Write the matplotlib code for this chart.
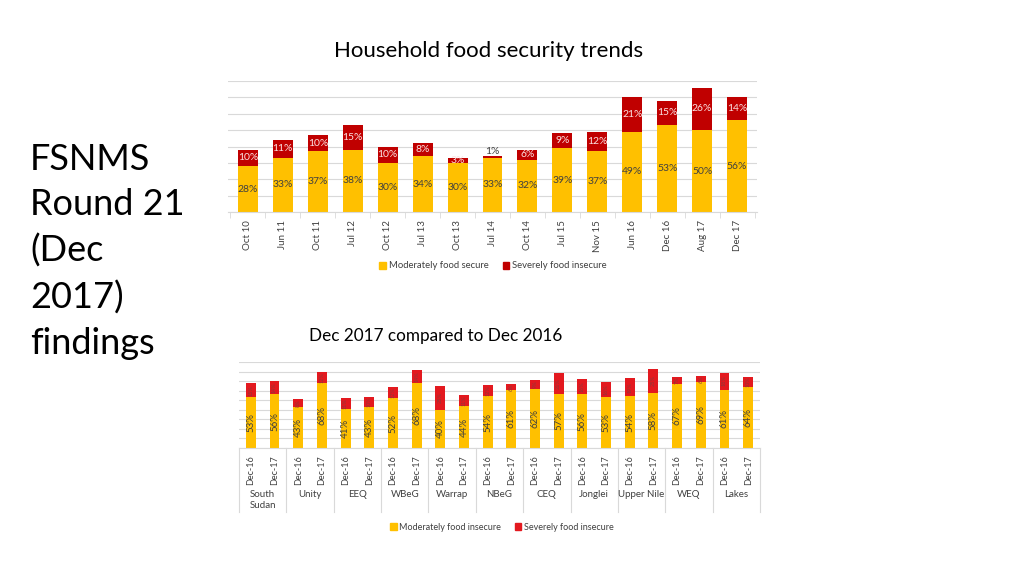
#!/usr/bin/env python
# -*- coding: utf-8 -*-

import numpy as np
import matplotlib
matplotlib.use('Agg')
import matplotlib.pyplot as plt
from matplotlib.patches import Patch

plt.rcParams['font.family'] = ['Lato', 'DejaVu Sans']

########################################################################################################################

# Tendances (graphique du haut)
PERIODES = ['Oct 10', 'Jun 11', 'Oct 11', 'Jul 12', 'Oct 12', 'Jul 13', 'Oct 13', 'Jul 14',
            'Oct 14', 'Jul 15', 'Nov 15', 'Jun 16', 'Dec 16', 'Aug 17', 'Dec 17']
MODERE = [28, 33, 37, 38, 30, 34, 30, 33, 32, 39, 37, 49, 53, 50, 56]
SEVERE = [10, 11, 10, 15, 10, 8, 3, 1, 6, 9, 12, 21, 15, 26, 14]

# Comparaison par état (graphique du bas)
ETATS = ['South\nSudan', 'Unity', 'EEQ', 'WBeG', 'Warrap', 'NBeG', 'CEQ', 'Jonglei',
         'Upper Nile', 'WEQ', 'Lakes']
ANNEES = ['Dec-16', 'Dec-17']
MODERE_ETAT = [53, 56, 43, 68, 41, 43, 52, 68, 40, 44, 54, 61, 62, 57, 56, 53, 54, 58, 67, 69, 61, 64]
SEVERE_ETAT = [15, 14, 8, 12, 11, 10, 12, 14, 25, 11, 12, 6, 9, 21, 16, 16, 19, 25, 7, 6, 18, 10]

########################################################################################################################

JAUNE = '#FFC000'
ROUGE_FONCE = '#C00000'
ROUGE = '#E3191F'
GRILLE = '#D9D9D9'
TEXTE = '#404040'

fig = plt.figure(figsize=(10.24, 5.76), dpi=100)

fig.text(30 / 1024, 1 - 143 / 576, 'FSNMS\nRound 21\n(Dec\n2017)\nfindings', fontsize=26,
         va='top', ha='left', linespacing=1.45, color='black')

# ------------------------------------------------------------------------------------------------------------------
# Graphique du haut
ax1 = fig.add_axes([228 / 1024, 1 - 212 / 576, (757 - 228) / 1024, (212 - 81) / 576])
x1 = np.arange(len(PERIODES))
ax1.bar(x1, MODERE, width=0.57, color=JAUNE, zorder=2)
ax1.bar(x1, SEVERE, width=0.57, bottom=MODERE, color=ROUGE_FONCE, zorder=2)
ax1.set_ylim(0, 80)
ax1.set_xlim(-0.57, len(PERIODES) - 0.43)
ax1.set_yticks(np.arange(0, 81, 10))
ax1.yaxis.grid(True, color=GRILLE, linewidth=0.8)
ax1.set_axisbelow(True)
ax1.tick_params(axis='y', length=0, labelleft=False)
ax1.set_xticks(x1)
ax1.set_xticklabels(PERIODES, rotation=90, fontsize=7, color=TEXTE)
ax1.set_xticks(np.arange(len(PERIODES) + 1) - 0.5, minor=True)
ax1.tick_params(axis='x', which='major', length=0, pad=6)
ax1.tick_params(axis='x', which='minor', length=4, color=GRILLE)
for s in ['top', 'right', 'left']:
    ax1.spines[s].set_visible(False)
ax1.spines['bottom'].set_color(GRILLE)

for xi, m, s in zip(x1, MODERE, SEVERE):
    ax1.text(xi, m / 2, '{}%'.format(m), ha='center', va='center', fontsize=7.5, color=TEXTE)
    if s <= 1:
        ax1.text(xi, m + s + 0.5, '{}%'.format(s), ha='center', va='bottom', fontsize=7.5, color=TEXTE)
    else:
        ax1.text(xi, m + s / 2, '{}%'.format(s), ha='center', va='center', fontsize=7.5, color='#FBE3E3')

fig.text(489 / 1024, 1 - 51 / 576, 'Household food security trends', ha='center', va='center',
         fontsize=16, color='black')

fig.legend(handles=[Patch(color=JAUNE, label='Moderately food secure'),
                    Patch(color=ROUGE_FONCE, label='Severely food insecure')],
           loc='center', bbox_to_anchor=(493 / 1024, 1 - 266 / 576), ncol=2, frameon=False,
           fontsize=6.8, handlelength=0.7, handleheight=0.7, handletextpad=0.3, columnspacing=1.5,
           labelcolor=TEXTE)

# ------------------------------------------------------------------------------------------------------------------
# Graphique du bas
ax2 = fig.add_axes([239 / 1024, 1 - 448 / 576, (760 - 239) / 1024, (448 - 362) / 576])
x2 = np.arange(len(MODERE_ETAT))
ax2.bar(x2, MODERE_ETAT, width=0.42, color=JAUNE, zorder=2)
ax2.bar(x2, SEVERE_ETAT, width=0.42, bottom=MODERE_ETAT, color=ROUGE, zorder=2)
ax2.set_ylim(0, 90)
ax2.set_xlim(-0.5, len(MODERE_ETAT) - 0.5)
ax2.set_yticks(np.arange(0, 91, 10))
ax2.yaxis.grid(True, color=GRILLE, linewidth=0.8)
ax2.set_axisbelow(True)
ax2.tick_params(axis='y', length=0, labelleft=False)
ax2.set_xticks(x2)
ax2.set_xticklabels(ANNEES * len(ETATS), rotation=90, fontsize=6.5, color=TEXTE)
ax2.tick_params(axis='x', length=0, pad=5)
for s in ['top', 'right', 'left']:
    ax2.spines[s].set_visible(False)
ax2.spines['bottom'].set_color(GRILLE)

for xi, m, s in zip(x2, MODERE_ETAT, SEVERE_ETAT):
    ax2.text(xi, m / 2, '{}%'.format(m), ha='center', va='center', rotation=90, fontsize=7, color=TEXTE)
    ax2.text(xi, m + s / 2, '{}%'.format(s), ha='center', va='center', rotation=90, fontsize=4,
             color='#8A3A3A')

# Séparateurs et étiquettes des états
trans = ax2.get_xaxis_transform()
bas = -(512 - 448) / 86
for k in range(len(ETATS) + 1):
    ax2.plot([2 * k - 0.5, 2 * k - 0.5], [0, bas], transform=trans, color=GRILLE, linewidth=0.8,
             clip_on=False)
for k, etat in enumerate(ETATS):
    ax2.text(2 * k + 0.5, -(490 - 448) / 86, etat, transform=trans, ha='center', va='top',
             fontsize=7, color=TEXTE, linespacing=1.3)

fig.text(309 / 1024, 1 - 336 / 576, 'Dec 2017 compared to Dec 2016', ha='left', va='center',
         fontsize=12.3, color='black')

fig.legend(handles=[Patch(color=JAUNE, label='Moderately food insecure'),
                    Patch(color=ROUGE, label='Severely food insecure')],
           loc='center', bbox_to_anchor=(502 / 1024, 1 - 527 / 576), ncol=2, frameon=False,
           fontsize=6.5, handlelength=0.7, handleheight=0.7, handletextpad=0.3, columnspacing=1.5,
           labelcolor=TEXTE)

fig.savefig('out.png', dpi=100)
